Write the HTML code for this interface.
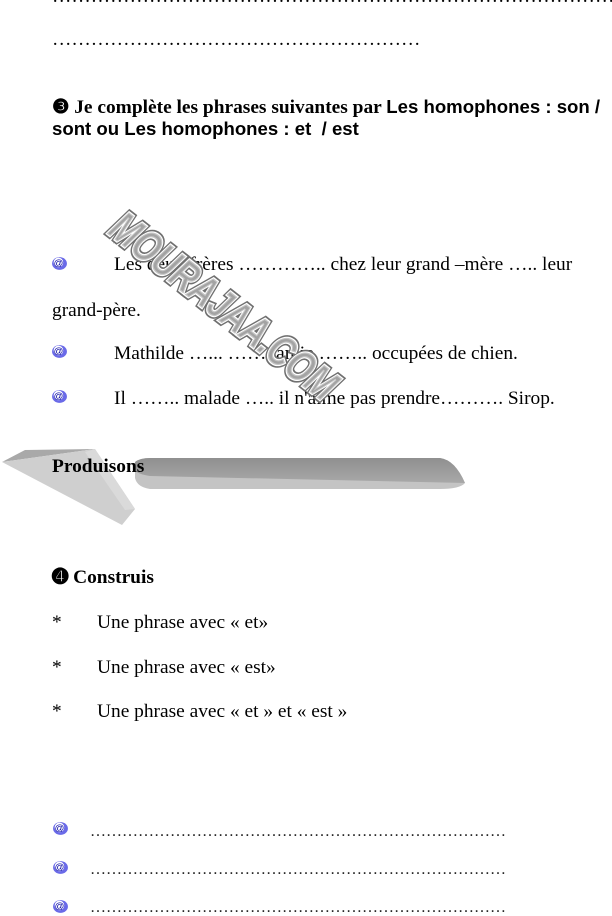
<!DOCTYPE html>
<html><head><meta charset="utf-8"><style>
body{margin:0;width:612px;height:915px;background:#fff;position:relative;overflow:hidden;font-family:"Liberation Serif",serif;font-size:19.4px;color:#000}
.t{position:absolute;white-space:nowrap;line-height:19px}
.b{font-weight:bold}
.s{font-family:"Liberation Sans",sans-serif;font-weight:bold;font-size:18.6px}
.ic{position:absolute;width:17px;height:15px}
.dl{position:absolute;left:90px;width:416px;overflow:hidden;white-space:nowrap;font-size:16px;line-height:16px;color:#222}
</style></head><body>
<div class="t" style="left:52px;top:-13px;width:560px;overflow:hidden">………………………………………………………………………………………</div>
<div class="t" style="left:52px;top:30px">…………………………………………………</div>
<div class="t b" style="left:52px;top:97px">❸ Je complète les phrases suivantes par <span class="s">Les homophones : son /</span></div>
<div class="t s" style="left:52px;top:119px">sont ou Les homophones : et &nbsp;/ est</div>

<svg class="ic" style="left:51px;top:256px" viewBox="0 0 16 14"><ellipse cx="8" cy="7" rx="7" ry="6" fill="#6a6ae8"/><ellipse cx="7" cy="6" rx="4.5" ry="4.5" fill="#fff"/><text x="7" y="9.5" font-size="9" text-anchor="middle" fill="#0000a0" font-family="Liberation Sans">@</text></svg>
<div class="t" style="left:114px;top:255px">Les deux frères ………….. chez leur grand –mère ….. leur</div>
<div class="t" style="left:52px;top:301px">grand-père.</div>
<svg class="ic" style="left:51px;top:344px" viewBox="0 0 16 14"><ellipse cx="8" cy="7" rx="7" ry="6" fill="#6a6ae8"/><ellipse cx="7" cy="6" rx="4.5" ry="4.5" fill="#fff"/><text x="7" y="9.5" font-size="9" text-anchor="middle" fill="#0000a0" font-family="Liberation Sans">@</text></svg>
<div class="t" style="left:114px;top:344px">Mathilde …... ……. amie …….. occupées de chien.</div>
<svg class="ic" style="left:51px;top:389px" viewBox="0 0 16 14"><ellipse cx="8" cy="7" rx="7" ry="6" fill="#6a6ae8"/><ellipse cx="7" cy="6" rx="4.5" ry="4.5" fill="#fff"/><text x="7" y="9.5" font-size="9" text-anchor="middle" fill="#0000a0" font-family="Liberation Sans">@</text></svg>
<div class="t" style="left:114px;top:389px">Il …….. malade ….. il n'aime pas prendre………. Sirop.</div>

<svg style="position:absolute;left:0;top:0" width="612" height="915">
<defs><linearGradient id="g1" x1="0" y1="0" x2="0" y2="1"><stop offset="0" stop-color="#8f8f8f"/><stop offset="1" stop-color="#a8a8a8"/></linearGradient></defs>
<path d="M135 462 Q140 458 150 458 L440 458 Q455 460 465 483 Q460 489 440 489 L150 489 Q137 487 135 478 Z" fill="#c4c4c4"/>
<path d="M135 462 Q140 458 150 458 L440 458 Q455 460 465 483 L150 476 Q137 474 135 470 Z" fill="url(#g1)"/>
<path d="M2 462 L25 450 L95 449 Z" fill="#a9a9a9"/>
<path d="M2 462 L95 449 L135 509 L122 525 Z" fill="#cfcfcf"/>
<path d="M95 449 L135 509 L125 510 L85 452 Z" fill="#dadada"/>
<g transform="translate(224,306) rotate(38)">
<text x="0" y="15" text-anchor="middle" font-family="Liberation Sans" font-weight="bold" font-style="italic" font-size="44" textLength="275" lengthAdjust="spacingAndGlyphs" fill="none" stroke="#707070" stroke-width="6">MOURAJAA.COM</text>
<text x="0" y="15" text-anchor="middle" font-family="Liberation Sans" font-weight="bold" font-style="italic" font-size="44" textLength="275" lengthAdjust="spacingAndGlyphs" fill="#a8a8a8" stroke="#ffffff" stroke-width="2.5">MOURAJAA.COM</text>
<text x="0" y="15" text-anchor="middle" font-family="Liberation Sans" font-weight="bold" font-style="italic" font-size="44" textLength="275" lengthAdjust="spacingAndGlyphs" fill="#a0a0a0" stroke="none" opacity="0.6">MOURAJAA.COM</text>
</g>
</svg>
<div class="t b" style="left:52px;top:457px">Produisons</div>

<div class="t b" style="left:52px;top:568px">➍ Construis</div>
<div class="t" style="left:52px;top:613px">*</div><div class="t" style="left:97px;top:613px">Une phrase avec « et»</div>
<div class="t" style="left:52px;top:658px">*</div><div class="t" style="left:97px;top:658px">Une phrase avec « est»</div>
<div class="t" style="left:52px;top:702px">*</div><div class="t" style="left:97px;top:702px">Une phrase avec « et » et « est »</div>

<svg class="ic" style="left:52px;top:821px" viewBox="0 0 16 14"><ellipse cx="8" cy="7" rx="7" ry="6" fill="#6a6ae8"/><ellipse cx="7" cy="6" rx="4.5" ry="4.5" fill="#fff"/><text x="7" y="9.5" font-size="9" text-anchor="middle" fill="#0000a0" font-family="Liberation Sans">@</text></svg>
<div class="dl" style="top:824px">…………………………………………………………………………………</div>
<svg class="ic" style="left:52px;top:860px" viewBox="0 0 16 14"><ellipse cx="8" cy="7" rx="7" ry="6" fill="#6a6ae8"/><ellipse cx="7" cy="6" rx="4.5" ry="4.5" fill="#fff"/><text x="7" y="9.5" font-size="9" text-anchor="middle" fill="#0000a0" font-family="Liberation Sans">@</text></svg>
<div class="dl" style="top:862px">…………………………………………………………………………………</div>
<svg class="ic" style="left:52px;top:899px" viewBox="0 0 16 14"><ellipse cx="8" cy="7" rx="7" ry="6" fill="#6a6ae8"/><ellipse cx="7" cy="6" rx="4.5" ry="4.5" fill="#fff"/><text x="7" y="9.5" font-size="9" text-anchor="middle" fill="#0000a0" font-family="Liberation Sans">@</text></svg>
<div class="dl" style="top:900px">…………………………………………………………………………………</div>
</body></html>
